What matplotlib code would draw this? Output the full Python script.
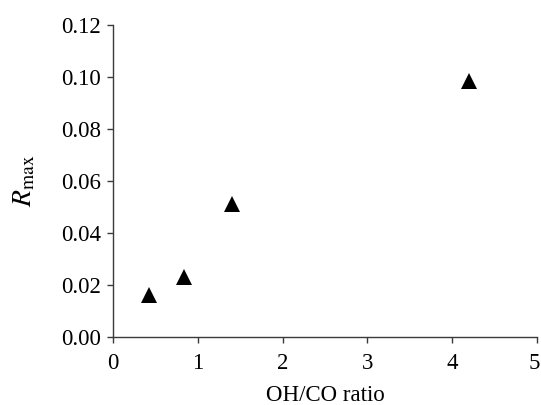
import matplotlib
matplotlib.use("Agg")
import matplotlib.pyplot as plt
from matplotlib.transforms import ScaledTranslation

plt.rcParams['font.family'] = ['Liberation Serif', 'DejaVu Serif']
plt.rcParams['mathtext.fontset'] = 'stix'

# data
oh_co_ratio = [0.42, 0.84, 1.40, 4.20]
r_max = [0.016, 0.023, 0.051, 0.0985]

x_ticks = [0, 1, 2, 3, 4, 5]
y_ticks = [0.00, 0.02, 0.04, 0.06, 0.08, 0.10, 0.12]

fig = plt.figure(figsize=(5.41, 4.05), dpi=100)
ax = fig.add_axes([0.2089, 0.1679, 0.7837, 0.7704])

ax.plot(oh_co_ratio, r_max, linestyle='none', marker='^', markersize=11,
        markerfacecolor='black', markeredgewidth=0, clip_on=False)

ax.set_xlim(0, 5)
ax.set_ylim(0, 0.12)
ax.set_xticks(x_ticks)
ax.set_yticks(y_ticks)
ax.set_yticklabels(['{0:.2f}'.format(v) for v in y_ticks])

for side in ['top', 'right']:
    ax.spines[side].set_visible(False)
for side in ['left', 'bottom']:
    ax.spines[side].set_color('#3a3a3a')
    ax.spines[side].set_linewidth(1.0)

ax.tick_params(direction='out', length=4.5, width=1.0, color='#3a3a3a',
               labelsize=16.5)
ax.tick_params(axis='x', pad=7)
ax.tick_params(axis='y', pad=4)

# last x label sits right at the figure edge, nudge it in a bit
last = ax.get_xticklabels()[-1]
last.set_transform(last.get_transform() + ScaledTranslation(-3 / 100, 0, fig.dpi_scale_trans))

ax.set_xlabel('OH/CO ratio', fontsize=16.5, labelpad=8)
ax.set_ylabel(r'$R_{\mathrm{max}}$', fontsize=20, labelpad=17)

fig.savefig('out.png', dpi=100)
